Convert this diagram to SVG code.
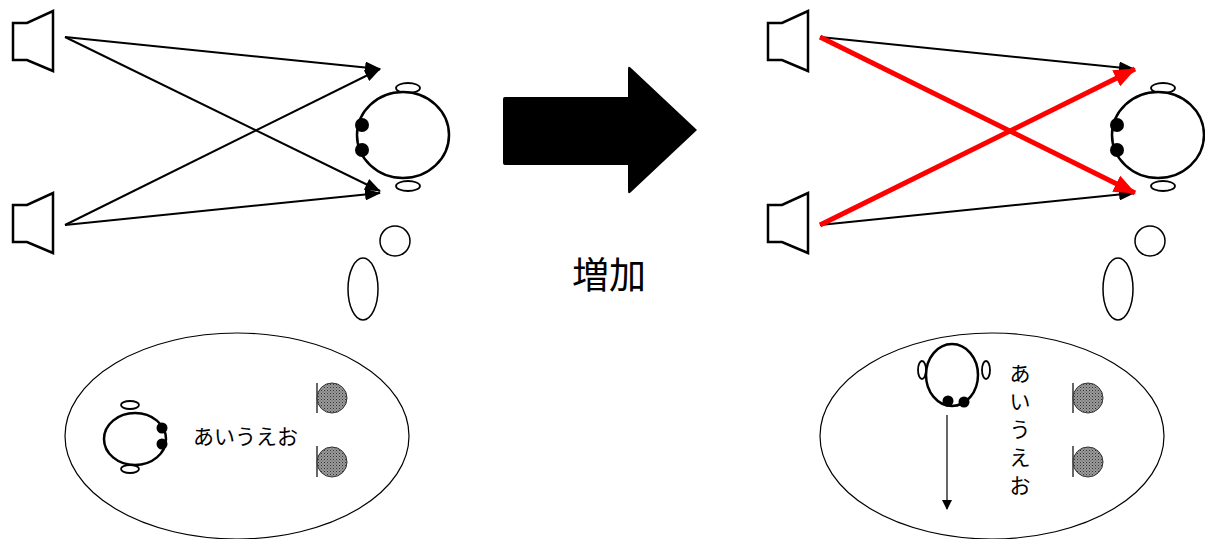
<svg xmlns="http://www.w3.org/2000/svg" width="1205" height="539" viewBox="0 0 1205 539">
  <style>
    .ln { fill: none; stroke: #000; stroke-width: 2; }
    .thin { fill: none; stroke: #000; stroke-width: 1.2; }
    .red { fill: none; stroke: #f00; stroke-width: 5; }
    .spk { fill: #fff; stroke: #000; stroke-width: 2.5; stroke-linejoin: miter; }
    .head { fill: #fff; stroke: #000; stroke-width: 2.5; }
    .ear { fill: #fff; stroke: #000; stroke-width: 1.8; }
    .eye { fill: #000; }
    .bub { fill: #fff; stroke: #000; stroke-width: 1.5; }
    .scene { fill: #fff; stroke: #000; stroke-width: 1.2; }
    .src { fill: url(#dots); stroke: #333; stroke-width: 1; }
    .txt { font-family: "Noto Sans CJK JP", "Liberation Sans", sans-serif; fill: #000; }
  </style>
  <defs>
    <pattern id="dots" width="3" height="3" patternUnits="userSpaceOnUse">
      <rect width="3" height="3" fill="#9a9a9a"/>
      <rect width="1" height="1" fill="#333"/>
      <rect x="1.5" y="1.5" width="1" height="1" fill="#555"/>
    </pattern>
    <marker id="ah" markerUnits="userSpaceOnUse" markerWidth="16" markerHeight="12" refX="15" refY="6" orient="auto">
      <path d="M0,0 L16,6 L0,12 Z" fill="#000"/>
    </marker>
    <marker id="ahRed" markerUnits="userSpaceOnUse" markerWidth="22" markerHeight="18" refX="21" refY="9" orient="auto">
      <path d="M0,0 L22,9 L0,18 Z" fill="#f00"/>
    </marker>
    <marker id="ahSmall" markerUnits="userSpaceOnUse" markerWidth="10" markerHeight="12" refX="9" refY="5" orient="auto">
      <path d="M0,0 L10,5 L0,10 Z" fill="#000"/>
    </marker>
    <path id="speaker" d="M13,23 L27,23 L53,11 L53,71 L27,60 L13,60 Z"/>
  </defs>

  <!-- left: two loudspeakers -->
  <g id="spkL1"><use href="#speaker" class="spk"/></g>
  <g id="spkL2"><use href="#speaker" class="spk" transform="translate(0,182)"/></g>

  <!-- left: listener head seen from above -->
  <g id="headL">
    <ellipse class="ear" cx="408" cy="88" rx="12" ry="5"/>
    <ellipse class="ear" cx="408" cy="186" rx="12" ry="5"/>
    <ellipse class="head" cx="403" cy="135" rx="46" ry="43"/>
    <circle class="eye" cx="362" cy="125" r="7"/>
    <circle class="eye" cx="362" cy="150" r="7"/>
  </g>

  <!-- left: thought bubbles -->
  <g id="bubL">
    <circle class="bub" cx="395" cy="241" r="15"/>
    <ellipse class="bub" cx="363" cy="289" rx="15" ry="31"/>
  </g>

  <!-- left: imagined scene -->
  <g id="sceneL">
    <ellipse class="scene" cx="237" cy="436" rx="172" ry="103"/>
    <ellipse class="ear" cx="130" cy="405" rx="9" ry="4"/>
    <ellipse class="ear" cx="130" cy="469" rx="9" ry="4"/>
    <ellipse class="head" cx="135" cy="439" rx="31" ry="26"/>
    <circle class="eye" cx="162" cy="428" r="5.5"/>
    <circle class="eye" cx="162" cy="444" r="5.5"/>
    <text class="txt" x="193" y="444" font-size="21">あいうえお</text>
    <line class="thin" x1="317" y1="383" x2="317" y2="413"/>
    <circle class="src" cx="332" cy="398" r="15"/>
    <line class="thin" x1="317" y1="446" x2="317" y2="477"/>
    <circle class="src" cx="332" cy="462" r="15"/>
  </g>

  <!-- centre: big arrow and label -->
  <g id="bigArrow">
    <path d="M505,97 L628,97 L628,69 Q628,65 631,68 L697,130 L631,192 Q628,195 628,191 L628,165 L505,165 Q503,165 503,163 L503,99 Q503,97 505,97 Z" fill="#000"/>
    <text class="txt" x="609" y="289" font-size="37" text-anchor="middle">増加</text>
  </g>

  <!-- right: two loudspeakers -->
  <g id="spkR1"><use href="#speaker" class="spk" transform="translate(755,0)"/></g>
  <g id="spkR2"><use href="#speaker" class="spk" transform="translate(755,182)"/></g>

  <!-- right: listener head -->
  <g id="headR">
    <ellipse class="ear" cx="1163" cy="88" rx="12" ry="5"/>
    <ellipse class="ear" cx="1163" cy="186" rx="12" ry="5"/>
    <ellipse class="head" cx="1158" cy="135" rx="46" ry="43"/>
    <circle class="eye" cx="1117" cy="125" r="7"/>
    <circle class="eye" cx="1117" cy="150" r="7"/>
  </g>

  <!-- right: thought bubbles -->
  <g id="bubR">
    <circle class="bub" cx="1150" cy="241" r="15"/>
    <ellipse class="bub" cx="1118" cy="289" rx="15" ry="31"/>
  </g>

  <!-- right: imagined scene -->
  <g id="sceneR">
    <ellipse class="scene" cx="992" cy="436" rx="172" ry="103"/>
    <ellipse class="ear" cx="922" cy="370" rx="4" ry="9"/>
    <ellipse class="ear" cx="986" cy="370" rx="4" ry="9"/>
    <ellipse class="head" cx="952" cy="375" rx="26" ry="31"/>
    <circle class="eye" cx="948" cy="401" r="5.5"/>
    <circle class="eye" cx="964" cy="402" r="5.5"/>
    <g class="txt" font-size="21" text-anchor="middle">
      <text x="1020" y="381">あ</text>
      <text x="1020" y="409">い</text>
      <text x="1020" y="437">う</text>
      <text x="1020" y="465">え</text>
      <text x="1020" y="493">お</text>
    </g>
    <line class="thin" x1="1073" y1="383" x2="1073" y2="413"/>
    <circle class="src" cx="1088" cy="398" r="15"/>
    <line class="thin" x1="1073" y1="446" x2="1073" y2="477"/>
    <circle class="src" cx="1088" cy="462" r="15"/>
  </g>

  <!-- connectors -->
  <g id="connectors">
    <line class="ln" x1="65" y1="37" x2="380" y2="69" marker-end="url(#ah)"/>
    <line class="ln" x1="65" y1="37" x2="380" y2="191" marker-end="url(#ah)"/>
    <line class="ln" x1="65" y1="225" x2="380" y2="69" marker-end="url(#ah)"/>
    <line class="ln" x1="65" y1="225" x2="380" y2="193" marker-end="url(#ah)"/>

    <line class="ln" x1="820" y1="37" x2="1134" y2="69" marker-end="url(#ah)"/>
    <line class="ln" x1="820" y1="225" x2="1134" y2="193" marker-end="url(#ah)"/>
    <line class="red" x1="820" y1="37" x2="1135" y2="193" marker-end="url(#ahRed)"/>
    <line class="red" x1="820" y1="225" x2="1135" y2="69" marker-end="url(#ahRed)"/>

    <line class="thin" x1="947" y1="415" x2="947" y2="509" marker-end="url(#ahSmall)"/>
  </g>
</svg>
